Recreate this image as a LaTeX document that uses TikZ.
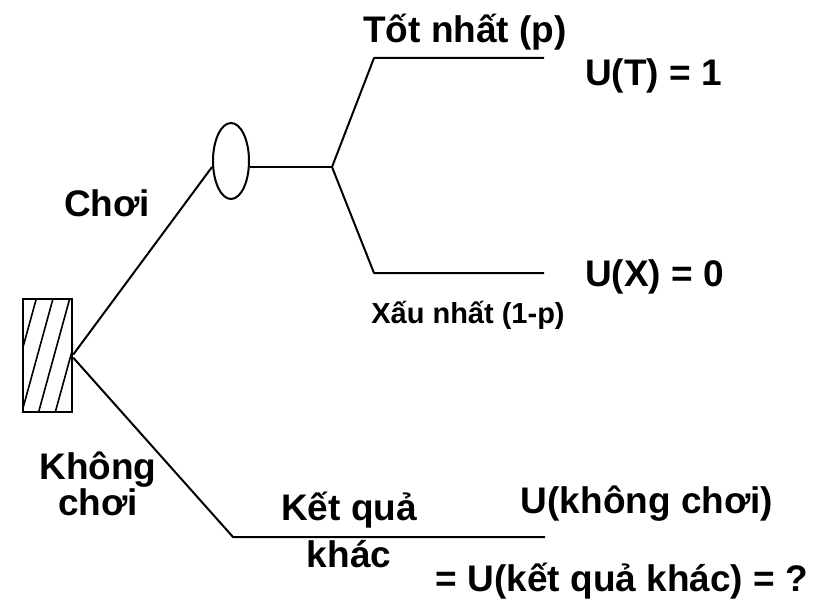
\documentclass[tikz,border=0pt]{standalone}
\usepackage{fontspec}
\setmainfont{Liberation Sans}
\usepackage{tikz}
\usetikzlibrary{shapes.geometric}

\begin{document}
\begin{tikzpicture}[
  x=1pt, y=-1pt,
  every node/.style={inner sep=0pt, font=\fontsize{37}{42}\selectfont\bfseries},
  branch/.style={line width=2pt, line join=round},
  small label/.style={font=\fontsize{29}{32}\selectfont\bfseries},
  lbl/.style={anchor=base}
]
\useasboundingbox (0,0) rectangle (829,604);

% decision square, hatched
\node[draw, line width=2.2pt, minimum width=49pt, minimum height=113pt,
      anchor=north west] (dec) at (22,298) {};
\begin{scope}
  \clip (dec.south west) rectangle (dec.north east);
  \foreach \i in {0,...,3}
    \draw[line width=1.6pt] (5.5+16.7*\i,411) -- (36.5+16.7*\i,298);
\end{scope}

% chance node
\node[draw, ellipse, line width=2pt, minimum width=36pt, minimum height=76pt]
  (chance) at (231,161) {};

\coordinate (fork) at (332,167);
\coordinate (best) at (374,58);
\coordinate (bestend) at (544,58);
\coordinate (worst) at (374,273);
\coordinate (worstend) at (544,273);
\coordinate (other) at (233,537);
\coordinate (otherend) at (545,537);

\draw[branch] ([yshift=1pt]dec.east) -- (chance.west |- fork);
\draw[branch] (chance.east |- fork) -- (fork);
\draw[branch] (fork) -- (best) -- (bestend);
\draw[branch] (fork) -- (worst) -- (worstend);
\draw[branch] ([yshift=-2pt]dec.east) -- (other) -- (otherend);

% labels
\node[lbl] (tbest) at (465,43) {Tốt nhất (p)};
\node[lbl, anchor=base west] (ubest) at (585,86) {U(T) = 1};
\node[lbl, anchor=base west] (tplay) at (64,216) {Chơi};
\node[lbl, anchor=base west] (uworst) at (585,286) {U(X) = 0};
\node[lbl, small label] (tworst) at (468,323) {Xấu nhất (1-p)};
\node[align=center, font=\fontsize{37}{36}\selectfont\bfseries]
  (tnoplay) at (98,484) {Không\\chơi};
\node[align=center, font=\fontsize{37}{47}\selectfont\bfseries]
  (tother) at (349,530) {Kết quả\\khác};
\node[lbl] (unoplay) at (647,513) {U(không chơi)};
\node[lbl] (uother) at (622,591) {= U(kết quả khác) = ?};
\end{tikzpicture}
\end{document}
